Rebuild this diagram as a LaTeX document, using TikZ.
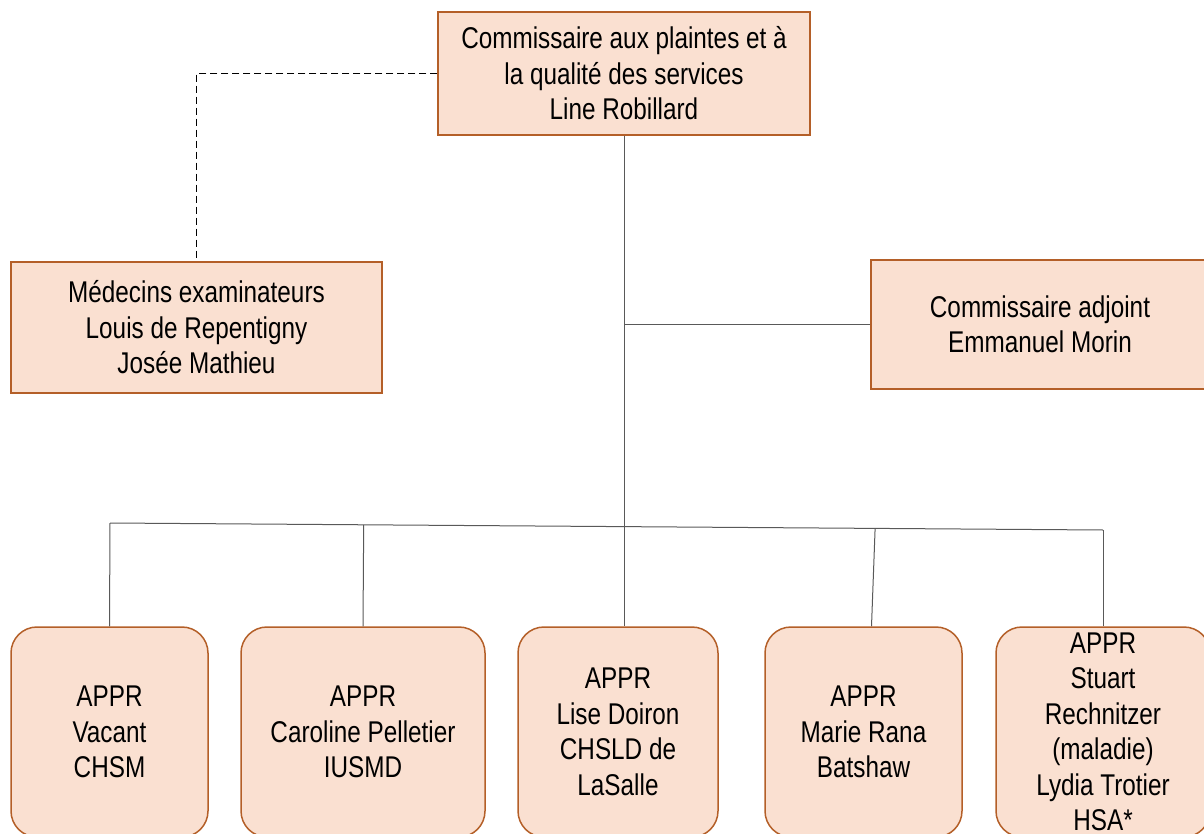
\documentclass[tikz,border=0pt]{standalone}
\usepackage{fontspec}
\setmainfont[FakeStretch=0.81]{Liberation Sans}
\usetikzlibrary{calc}
\definecolor{peche}{RGB}{250,224,209}
\definecolor{brique}{RGB}{180,95,40}
\begin{document}
\begin{tikzpicture}[x=1pt,y=-1pt,
		poste/.style={draw=brique,fill=peche,line width=1.5pt,align=center,inner sep=0pt,font=\fontsize{30}{35.5}\selectfont},
		appr/.style={poste,rounded corners=26pt,minimum height=210pt},
		lien/.style={black!65,line width=1pt}]
			\useasboundingbox (0,0) rectangle (1204,834);
			% boites du haut
			\node (chef) at(624,73.5)[poste,minimum width=372pt,minimum height=123pt]{Commissaire aux plaintes et à\\la qualité des services\\Line Robillard};
			\node (medecins) at(196.5,327.5)[poste,minimum width=371pt,minimum height=131pt]{Médecins examinateurs\\Louis de Repentigny\\Josée Mathieu};
			\node (adjoint) at(1040,324.5)[poste,minimum width=338pt,minimum height=129pt]{Commissaire adjoint\\Emmanuel Morin};
			
			% APPR
			\node (appr1) at(109.5,732)[appr,minimum width=197pt]{APPR\\Vacant\\CHSM};
			\node (appr2) at(363,732)[appr,minimum width=244pt]{APPR\\Caroline Pelletier\\IUSMD};
			\node (appr3) at(618,732)[appr,minimum width=200pt]{APPR\\Lise Doiron\\CHSLD de\\LaSalle};
			\node (appr4) at(863.5,732)[appr,minimum width=197pt]{APPR\\Marie Rana\\Batshaw};
			\node (appr5) at(1103,732)[appr,minimum width=214pt]{APPR\\Stuart\\Rechnitzer\\(maladie)\\Lydia Trotier\\HSA*};
			
			% liens
			\coordinate (bus1) at(110,523);
			\coordinate (bus5) at(1103,530);
			\draw [lien](bus1)--(bus5);
			\draw [lien](appr1.north)--(bus1);
			\draw [lien](appr2.north)--($(bus1)!(appr2.north)!(bus5)$);
			\draw [lien]([xshift=8pt]appr4.north)--($(bus1)!([xshift=11pt]appr4.north)!(bus5)$);
			\draw [lien](appr5.north)--(bus5);
			\draw [lien](chef.south)--(chef.south |- appr3.north);
			\draw [lien](adjoint.west)--(adjoint.west -| chef.south);
			\draw [dash pattern=on 7pt off 4pt,black,line width=1pt](chef.west)--(medecins.north |- chef.west)--(medecins.north);
		\end{tikzpicture}
\end{document}
